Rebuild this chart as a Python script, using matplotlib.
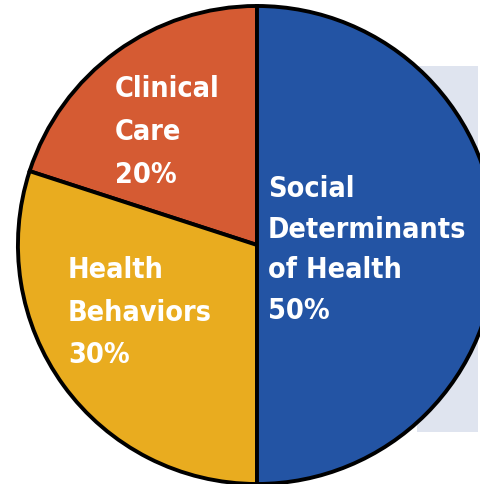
import matplotlib.pyplot as plt
from matplotlib.patches import Rectangle

labels = ["Clinical\nCare", "Health\nBehaviors", "Social\nDeterminants\nof Health"]
values = [20, 30, 50]
colors = ["#D55B33", "#E9AC1F", "#2354A4"]

# left x, first baseline y, line step (data units, pie radius = 1)
label_pos = [(-0.594, 0.619, 0.180), (-0.791, -0.138, 0.178), (0.046, 0.201, 0.170)]

fig = plt.figure(figsize=(4.81, 4.84), dpi=100)
ax = fig.add_axes([0, 0, 1, 1])

# pale panel behind the pie
ax.add_patch(Rectangle((0.669, -0.782), 0.256, 1.531, facecolor="#DFE4EF",
                       edgecolor="none", zorder=0))

ax.pie(values, colors=colors, startangle=90, counterclock=True, radius=1,
       wedgeprops=dict(edgecolor="black", linewidth=2.8), center=(0, 0))

for lab, val, (x, y, step) in zip(labels, values, label_pos):
    lines = lab.split("\n") + [f"{val}%"]
    for i, line in enumerate(lines):
        ax.text(x, y - i * step, line, color="white", fontsize=20.6, fontweight="bold",
                family="DejaVu Sans", fontstretch="condensed",
                ha="left", va="baseline", zorder=5)

ax.set_xlim(-1.075, 0.937)
ax.set_ylim(-1.0, 1.025)
ax.set_aspect("auto")
ax.axis("off")

fig.savefig("out.png", dpi=100)
